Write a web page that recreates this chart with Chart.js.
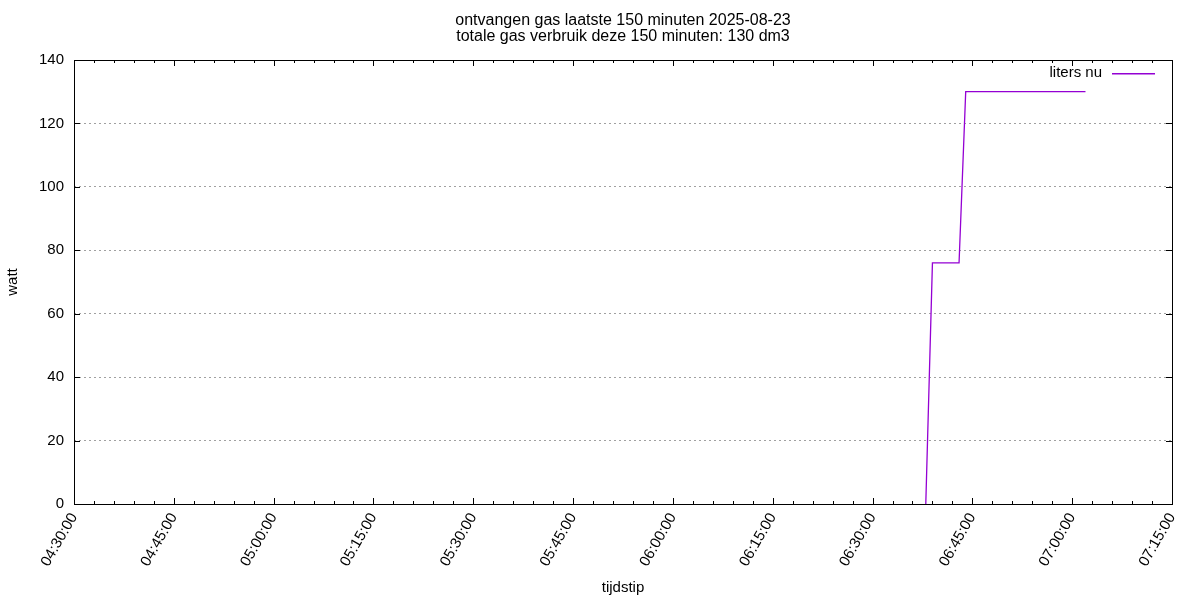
<!DOCTYPE html>
<html lang="nl">

<head>
    <meta charset="UTF-8">
    <title>Gas verbruik</title>
    <script src="https://cdn.jsdelivr.net/npm/chart.js"></script>
    <style>
        body { margin: 0; background: #fff; }
        #wrap { width: 1200px; height: 600px; }
    </style>
</head>

<body>
    <div id="wrap"><canvas id="gas_chart" width="1200" height="600"></canvas></div>
    <script>
        // data
        const titleLines = ['ontvangen gas laatste 150 minuten 2025-08-23', 'totale gas verbruik deze 150 minuten: 130 dm3'];
        const sampleTimes = ['06:38:00', '06:39:00', '06:43:00', '06:44:00', '07:02:00'];
        const litersNu = [0, 76, 76, 130, 130];
        const seriesLabel = 'liters nu';
        const xStart = '04:30:00';
        const xEnd = '07:15:00';

        const FONT = '"Liberation Sans", Arial, sans-serif';
        const PURPLE = '#9400d3';

        function toMinutes(t) {
            const p = t.split(':').map(Number);
            return p[0] * 60 + p[1] + (p[2] || 0) / 60;
        }
        function fmtTime(m) {
            const h = Math.floor(m / 60);
            const mm = Math.round(m % 60);
            return String(h).padStart(2, '0') + ':' + String(mm).padStart(2, '0') + ':00';
        }

        const points = sampleTimes.map((t, i) => ({ x: toMinutes(t), y: litersNu[i] }));

        // border box, inward ticks, title and legend like gnuplot draws them
        const frame = {
            id: 'frame',
            afterDraw(chart) {
                const { ctx, chartArea: a, scales } = chart;
                ctx.save();
                ctx.strokeStyle = '#000';
                ctx.lineWidth = 1;
                ctx.strokeRect(Math.round(a.left) + 0.5, Math.round(a.top) + 0.5,
                    Math.round(a.right - a.left), Math.round(a.bottom - a.top));

                ctx.beginPath();
                const xs = scales.x;
                for (let m = xs.min; m <= xs.max + 0.01; m += 3) {
                    const px = Math.round(xs.getPixelForValue(m)) + 0.5;
                    const len = (Math.round(m - xs.min) % 15 === 0) ? 6 : 3;
                    ctx.moveTo(px, a.bottom); ctx.lineTo(px, a.bottom - len);
                    ctx.moveTo(px, a.top); ctx.lineTo(px, a.top + len);
                }
                const ys = scales.y;
                ys.ticks.forEach(t => {
                    const py = Math.round(ys.getPixelForValue(t.value)) + 0.5;
                    ctx.moveTo(a.left, py); ctx.lineTo(a.left + 6, py);
                    ctx.moveTo(a.right, py); ctx.lineTo(a.right - 6, py);
                });
                ctx.stroke();

                // title
                ctx.fillStyle = '#000';
                ctx.font = '16px ' + FONT;
                ctx.textAlign = 'center';
                ctx.textBaseline = 'middle';
                const cx = (a.left + a.right) / 2;
                titleLines.forEach((line, i) => ctx.fillText(line, cx, 21 + i * 16));

                // legend
                ctx.font = '15px ' + FONT;
                ctx.textAlign = 'right';
                ctx.fillText(seriesLabel, a.right - 70, a.top + 13);
                ctx.fillStyle = PURPLE;
                ctx.fillRect(Math.round(a.right - 60), Math.round(a.top + 13), 43, 1.5);
                ctx.restore();
            }
        };

        const ctx = document.getElementById('gas_chart').getContext('2d');
        const gasChart = new Chart(ctx, {
            type: 'line',
            data: {
                datasets: [{
                    label: seriesLabel,
                    data: points,
                    borderColor: PURPLE,
                    borderWidth: 1.3,
                    pointRadius: 0,
                    tension: 0,
                    fill: false
                }]
            },
            options: {
                responsive: false,
                animation: false,
                devicePixelRatio: 1,
                layout: { padding: { top: 60, right: 28, left: 0, bottom: 0 } },
                scales: {
                    x: {
                        type: 'linear',
                        min: toMinutes(xStart),
                        max: toMinutes(xEnd),
                        afterFit(scale) { scale.height = 96; },
                        grid: { display: false, drawTicks: false },
                        border: { display: false },
                        ticks: {
                            stepSize: 15,
                            minRotation: 60,
                            maxRotation: 60,
                            padding: 6,
                            color: '#000',
                            font: { family: FONT, size: 15 },
                            callback: v => fmtTime(v)
                        },
                        title: {
                            display: true,
                            text: 'tijdstip',
                            color: '#000',
                            font: { family: FONT, size: 15 },
                            padding: { bottom: 3 }
                        }
                    },
                    y: {
                        min: 0,
                        max: 140,
                        afterFit(scale) { scale.width = 74; },
                        grid: {
                            drawTicks: false,
                            color: c => (c.tick.value === 0 || c.tick.value === 140) ? 'rgba(0,0,0,0)' : '#a0a0a0',
                            lineWidth: 1
                        },
                        border: { display: false, dash: [2, 3] },
                        ticks: {
                            stepSize: 20,
                            padding: 10,
                            color: '#000',
                            font: { family: FONT, size: 15 }
                        },
                        title: {
                            display: true,
                            text: 'watt',
                            color: '#000',
                            font: { family: FONT, size: 15 },
                            padding: { top: 4 }
                        }
                    }
                },
                plugins: {
                    legend: { display: false },
                    title: { display: false },
                    tooltip: { enabled: false }
                }
            },
            plugins: [frame]
        });
    </script>
</body>

</html>
